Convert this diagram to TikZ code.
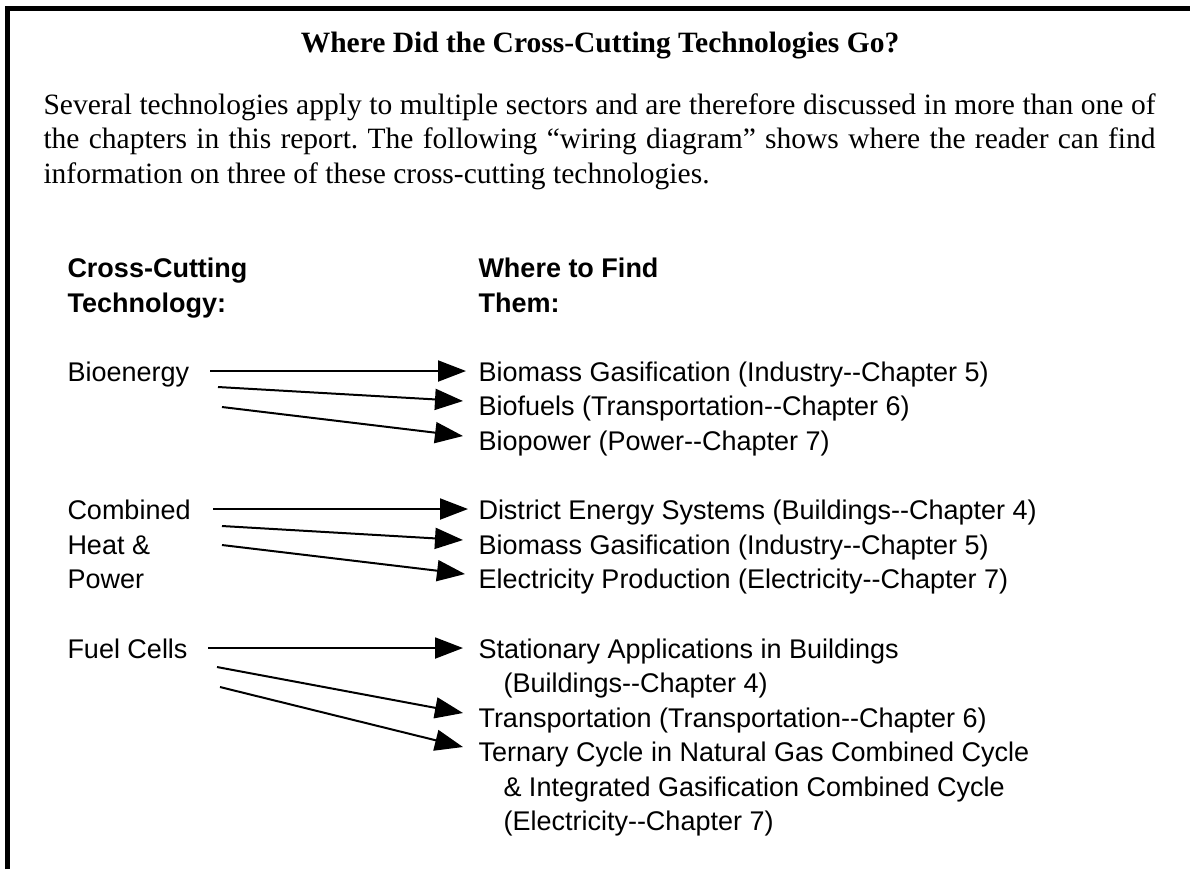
\documentclass[tikz,border=0pt]{standalone}
\usepackage{fontspec}
\setmainfont{Liberation Serif}
\newfontfamily\arialfont{Liberation Sans}
\usetikzlibrary{arrows.meta}
\frenchspacing
\begin{document}
\begin{tikzpicture}[x=0.4pt,y=-0.4pt,
  serif/.style={font=\fontsize{11.8}{13.8}\selectfont, inner sep=0pt, anchor=base west},
  sans/.style={font=\arialfont\fontsize{10.8}{13.8}\selectfont, inner sep=0pt, anchor=base west},
  head/.style={sans, font=\arialfont\bfseries\fontsize{10.8}{13.8}\selectfont},
  conn/.style={line width=0.8pt, -{Triangle[length=11.2pt,width=8.4pt]}},
  frame/.style={line width=2pt}]
\useasboundingbox (0,0) rectangle (1190,869);

% open frame: top and left rules
\draw[frame] (7.5,869) -- (7.5,8) -- (1190,8);

% title and introduction
\node[serif, anchor=base] (title) at (600,52) {\bfseries Where Did the Cross-Cutting Technologies Go?};
\node[serif] (p1) at (43,114) {\makebox[444.8pt][s]{Several technologies apply to multiple sectors and are therefore discussed in more than one of}};
\node[serif] (p2) at (43,148.5) {\makebox[444.8pt][s]{the chapters in this report. The following “wiring diagram” shows where the reader can find}};
\node[serif] (p3) at (43,183) {information on three of these cross-cutting technologies.};

% column headings
\node[head] (hl1) at (67,277) {Cross-Cutting};
\node[head] (hl2) at (67,312) {Technology:};
\node[head] (hr1) at (478,277) {Where to Find};
\node[head] (hr2) at (478,312) {Them:};

% left column
\node[sans] (bio) at (67,381) {Bioenergy};
\node[sans] (chp1) at (67,519) {Combined};
\node[sans] (chp2) at (67,554) {Heat \&};
\node[sans] (chp3) at (67,588) {Power};
\node[sans] (fc) at (67,658) {Fuel Cells};

% right column
\node[sans] (b1) at (478,381) {Biomass Gasification (Industry-{}-Chapter 5)};
\node[sans] (b2) at (478,415.6) {Biofuels (Transportation-{}-Chapter 6)};
\node[sans] (b3) at (478,450) {Biopower (Power-{}-Chapter 7)};
\node[sans] (c1) at (478,519) {District Energy Systems (Buildings-{}-Chapter 4)};
\node[sans] (c2) at (478,554) {Biomass Gasification (Industry-{}-Chapter 5)};
\node[sans] (c3) at (478,588) {Electricity Production (Electricity-{}-Chapter 7)};
\node[sans] (f1) at (478,658) {Stationary Applications in Buildings};
\node[sans] (f1b) at (503,692.5) {(Buildings-{}-Chapter 4)};
\node[sans] (f2) at (478,727) {Transportation (Transportation-{}-Chapter 6)};
\node[sans] (f3) at (478,761.5) {Ternary Cycle in Natural Gas Combined Cycle};
\node[sans] (f3b) at (503,796) {\& Integrated Gasification Combined Cycle};
\node[sans] (f3c) at (503,830.5) {(Electricity-{}-Chapter 7)};

% connector end points
\coordinate (a1s) at (210,371);   \coordinate (a1e) at (466,371);
\coordinate (a2s) at (218,387);   \coordinate (a2e) at (463,401);
\coordinate (a3s) at (222,407);   \coordinate (a3e) at (463,436);
\coordinate (c1s) at (213,509);   \coordinate (c1e) at (468,509);
\coordinate (c2s) at (222,526);   \coordinate (c2e) at (463,540);
\coordinate (c3s) at (222,545);   \coordinate (c3e) at (465,574);
\coordinate (f1s) at (208,648);   \coordinate (f1e) at (463,648);
\coordinate (f2s) at (217,667);   \coordinate (f2e) at (463,713);
\coordinate (f3s) at (220,687);   \coordinate (f3e) at (463,747);

% wiring
\draw[conn] (a1s) -- (a1e);
\draw[conn] (a2s) -- (a2e);
\draw[conn] (a3s) -- (a3e);
\draw[conn] (c1s) -- (c1e);
\draw[conn] (c2s) -- (c2e);
\draw[conn] (c3s) -- (c3e);
\draw[conn] (f1s) -- (f1e);
\draw[conn] (f2s) -- (f2e);
\draw[conn] (f3s) -- (f3e);
\end{tikzpicture}
\end{document}
